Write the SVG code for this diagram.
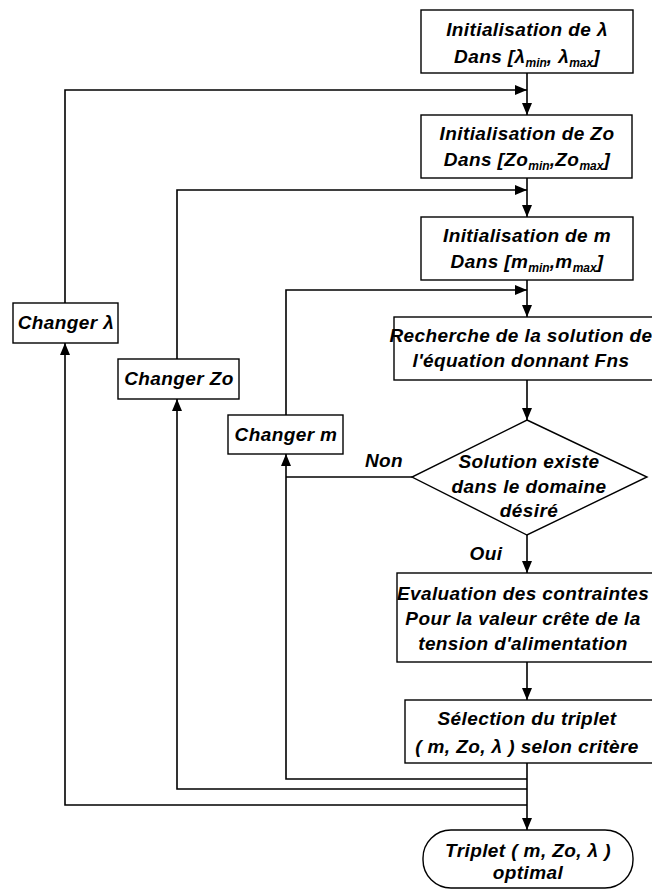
<svg xmlns="http://www.w3.org/2000/svg" width="652" height="890" viewBox="0 0 652 890">
<style>
.box{fill:#fff;stroke:#000;stroke-width:1.4}
.t{font-family:'Liberation Sans',Arial,sans-serif;font-style:italic;font-weight:bold;font-size:19px;letter-spacing:0.4px;fill:#000;text-anchor:middle}
.s{font-size:12px;letter-spacing:0}
.ln{fill:none;stroke:#000;stroke-width:1.6}
</style>
<defs>
<marker id="ah" viewBox="0 0 12 10" refX="12" refY="5" markerWidth="12" markerHeight="10" markerUnits="userSpaceOnUse" orient="auto">
<path d="M0,0 L12,5 L0,10 Z" fill="#000"/>
</marker>
</defs>
<rect width="652" height="890" fill="#fff"/>
<g id="connectors">
<line class="ln" x1="527" y1="73" x2="527" y2="115" marker-end="url(#ah)"/>
<line class="ln" x1="527" y1="178" x2="527" y2="217" marker-end="url(#ah)"/>
<line class="ln" x1="527" y1="280" x2="527" y2="317" marker-end="url(#ah)"/>
<line class="ln" x1="527" y1="380" x2="527" y2="420" marker-end="url(#ah)"/>
<line class="ln" x1="527" y1="535" x2="527" y2="573" marker-end="url(#ah)"/>
<line class="ln" x1="527" y1="662" x2="527" y2="700" marker-end="url(#ah)"/>
<line class="ln" x1="527" y1="763" x2="527" y2="830" marker-end="url(#ah)"/>
<polyline class="ln" points="65,303 65,90 527,90" marker-end="url(#ah)"/>
<polyline class="ln" points="177,359 177,190 527,190" marker-end="url(#ah)"/>
<polyline class="ln" points="286,415 286,290 527,290" marker-end="url(#ah)"/>
<polyline class="ln" points="527,805 65,805 65,343" marker-end="url(#ah)"/>
<polyline class="ln" points="527,789 177,789 177,399" marker-end="url(#ah)"/>
<polyline class="ln" points="527,779 286,779 286,454" marker-end="url(#ah)"/>
<line class="ln" x1="412" y1="477" x2="286" y2="477"/>
<text class="t" x="384" y="467">Non</text>
<text class="t" x="486" y="560">Oui</text>
</g>
<g id="init-lambda">
<rect class="box" x="421" y="10" width="212" height="63"/>
<text class="t" x="527" y="36">Initialisation de λ</text>
<text class="t" x="527" y="63">Dans [λ<tspan class="s" dy="4">min</tspan><tspan dy="-4">, λ</tspan><tspan class="s" dy="4">max</tspan><tspan dy="-4">]</tspan></text>
</g>
<g id="init-zo">
<rect class="box" x="421" y="115" width="211" height="63"/>
<text class="t" x="527" y="140">Initialisation de Zo</text>
<text class="t" x="527" y="166">Dans [Zo<tspan class="s" dy="4">min</tspan><tspan dy="-4">,Zo</tspan><tspan class="s" dy="4">max</tspan><tspan dy="-4">]</tspan></text>
</g>
<g id="init-m">
<rect class="box" x="421" y="217" width="212" height="63"/>
<text class="t" x="527" y="242">Initialisation de m</text>
<text class="t" x="527" y="268">Dans [m<tspan class="s" dy="4">min</tspan><tspan dy="-4">,m</tspan><tspan class="s" dy="4">max</tspan><tspan dy="-4">]</tspan></text>
</g>
<g id="recherche">
<rect class="box" x="394" y="317" width="270" height="63"/>
<text class="t" x="521" y="342">Recherche de la solution de</text>
<text class="t" x="521" y="367">l'équation donnant Fns</text>
</g>
<g id="decision">
<polygon class="box" points="527,420 647,477 527,535 412,477"/>
<text class="t" x="529" y="468">Solution existe</text>
<text class="t" x="529" y="493">dans le domaine</text>
<text class="t" x="529" y="517">désiré</text>
</g>
<g id="evaluation">
<rect class="box" x="397" y="573" width="264" height="89"/>
<text class="t" x="523" y="600">Evaluation des contraintes</text>
<text class="t" x="523" y="625">Pour la valeur crête de la</text>
<text class="t" x="523" y="650">tension d'alimentation</text>
</g>
<g id="selection">
<rect class="box" x="405" y="700" width="256" height="63"/>
<text class="t" x="527" y="725">Sélection du triplet</text>
<text class="t" x="527" y="753">( m, Zo, λ ) selon critère</text>
</g>
<g id="optimal">
<rect class="box" x="423" y="830" width="210" height="58" rx="28" ry="28"/>
<text class="t" x="528" y="857">Triplet ( m, Zo, λ )</text>
<text class="t" x="528" y="879">optimal</text>
</g>
<g id="changer-lambda">
<rect class="box" x="13" y="303" width="105" height="40"/>
<text class="t" x="66" y="329">Changer λ</text>
</g>
<g id="changer-zo">
<rect class="box" x="118" y="359" width="121" height="40"/>
<text class="t" x="179" y="385">Changer Zo</text>
</g>
<g id="changer-m">
<rect class="box" x="228" y="415" width="115" height="39"/>
<text class="t" x="286" y="441">Changer m</text>
</g>
</svg>
